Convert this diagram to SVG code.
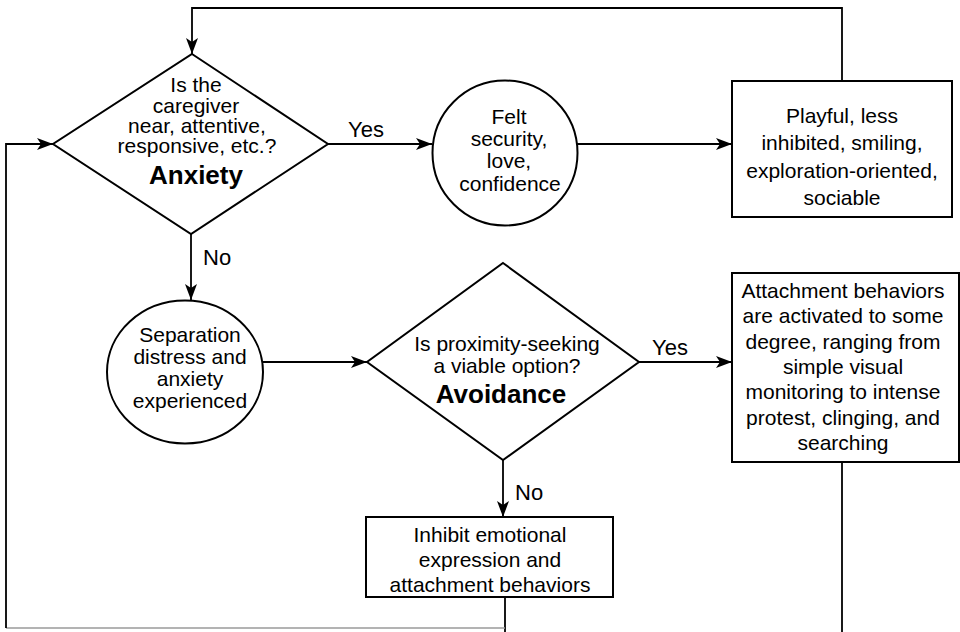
<svg xmlns="http://www.w3.org/2000/svg" width="960" height="632" viewBox="0 0 960 632">
<style>
  .shape { fill: #fff; stroke: #000; stroke-width: 2; }
  .line { fill: none; stroke: #000; stroke-width: 1.8; }
  .faint { fill: none; stroke: #9a9a9a; stroke-width: 1.6; }
  .t { font-family: "Liberation Sans", Arial, sans-serif; font-size: 21px; fill: #000; text-anchor: middle; }
  .b { font-family: "Liberation Sans", Arial, sans-serif; font-size: 26px; font-weight: bold; fill: #000; text-anchor: middle; }
  .lbl { font-family: "Liberation Sans", Arial, sans-serif; font-size: 22px; fill: #000; }
</style>
<defs>
  <marker id="arrow" viewBox="0 0 16 12" refX="16" refY="6" markerWidth="16" markerHeight="12" orient="auto" markerUnits="userSpaceOnUse">
    <path d="M0,0 L16,6 L0,12 L4,6 z" fill="#000"/>
  </marker>
</defs>
<rect width="960" height="632" fill="#fff"/>

<g id="connectors">
  <path class="line" d="M842,81 V8 H192 V54" marker-end="url(#arrow)"/>
  <path class="line" d="M328,144 H432" marker-end="url(#arrow)"/>
  <path class="line" d="M577,144 H732" marker-end="url(#arrow)"/>
  <path class="line" d="M191,234 V300" marker-end="url(#arrow)"/>
  <path class="line" d="M263,362 H367" marker-end="url(#arrow)"/>
  <path class="line" d="M639,362 H732" marker-end="url(#arrow)"/>
  <path class="line" d="M503,460 V517" marker-end="url(#arrow)"/>
  <path class="line" d="M842,462 V632"/>
  <path class="line" d="M505,597 V632"/>
  <path class="faint" d="M505,628 H6"/>
  <path class="line" d="M6,628 V144 H53" marker-end="url(#arrow)"/>
  <text class="lbl" x="348" y="137">Yes</text>
  <text class="lbl" x="203" y="265">No</text>
  <text class="lbl" x="652" y="355">Yes</text>
  <text class="lbl" x="515" y="500">No</text>
</g>

<g id="decision-caregiver">
  <polygon class="shape" points="192,54 328,144 191,234 53,144"/>
  <text class="t" x="196" y="92">Is the</text>
  <text class="t" x="196" y="113">caregiver</text>
  <text class="t" x="197" y="133">near, attentive,</text>
  <text class="t" x="197" y="153">responsive, etc.?</text>
  <text class="b" x="196" y="184">Anxiety</text>
</g>

<g id="felt-security">
  <circle class="shape" cx="505" cy="153" r="72.5"/>
  <text class="t" x="509" y="124">Felt</text>
  <text class="t" x="509" y="146">security,</text>
  <text class="t" x="509" y="168">love,</text>
  <text class="t" x="510" y="191">confidence</text>
</g>

<g id="playful">
  <rect class="shape" x="732" y="81" width="220" height="136"/>
  <text class="t" x="842" y="123">Playful, less</text>
  <text class="t" x="842" y="150">inhibited, smiling,</text>
  <text class="t" x="842" y="178">exploration-oriented,</text>
  <text class="t" x="842" y="205">sociable</text>
</g>

<g id="separation-distress">
  <ellipse class="shape" cx="185" cy="372" rx="78" ry="71.5"/>
  <text class="t" x="190" y="342">Separation</text>
  <text class="t" x="190" y="364">distress and</text>
  <text class="t" x="190" y="386">anxiety</text>
  <text class="t" x="190" y="408">experienced</text>
</g>

<g id="decision-proximity">
  <polygon class="shape" points="503,263 639,362 503,460 367,362"/>
  <text class="t" x="507" y="351">Is proximity-seeking</text>
  <text class="t" x="507" y="373">a viable option?</text>
  <text class="b" x="501" y="403">Avoidance</text>
</g>

<g id="attachment-behaviors">
  <rect class="shape" x="732" y="273" width="227" height="189"/>
  <text class="t" x="843" y="298">Attachment behaviors</text>
  <text class="t" x="843" y="323">are activated to some</text>
  <text class="t" x="843" y="349">degree, ranging from</text>
  <text class="t" x="843" y="374">simple visual</text>
  <text class="t" x="843" y="399">monitoring to intense</text>
  <text class="t" x="843" y="425">protest, clinging, and</text>
  <text class="t" x="843" y="450">searching</text>
</g>

<g id="inhibit">
  <rect class="shape" x="366" y="517" width="247" height="80"/>
  <text class="t" x="490" y="542">Inhibit emotional</text>
  <text class="t" x="490" y="567">expression and</text>
  <text class="t" x="490" y="592">attachment behaviors</text>
</g>
</svg>
